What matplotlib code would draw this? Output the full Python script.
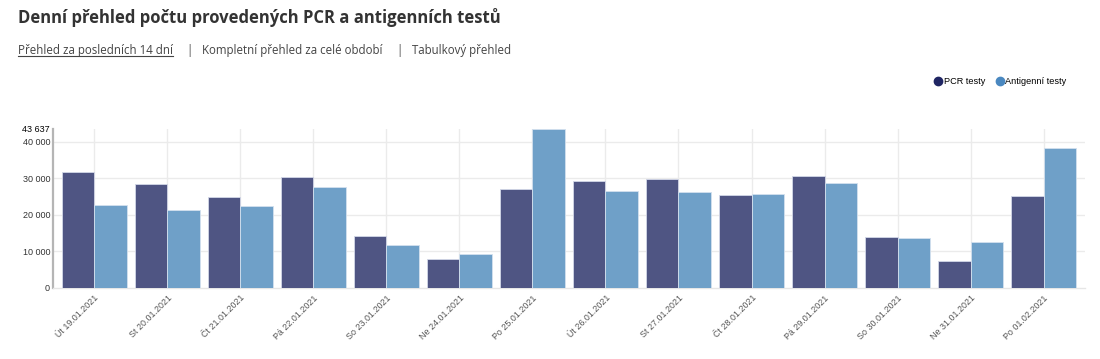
import numpy as np
import matplotlib
matplotlib.use("Agg")
import matplotlib.pyplot as plt
from matplotlib.lines import Line2D

# data
dates = ["Út 19.01.2021", "St 20.01.2021", "Čt 21.01.2021", "Pá 22.01.2021",
         "So 23.01.2021", "Ne 24.01.2021", "Po 25.01.2021", "Út 26.01.2021",
         "St 27.01.2021", "Čt 28.01.2021", "Pá 29.01.2021", "So 30.01.2021",
         "Ne 31.01.2021", "Po 01.02.2021"]
pcr = [31700, 28500, 25000, 30300, 14100, 7800, 27200,
       29300, 29900, 25400, 30700, 13900, 7300, 25300]
antigen = [22700, 21300, 22300, 27500, 11700, 9400, 43637,
           26600, 26200, 25800, 28800, 13600, 12500, 38300]
y_max = 43637
y_ticks = [0, 10000, 20000, 30000, 40000, y_max]
series_names = ["PCR testy", "Antigenní testy"]

pcr_col = "#4f5583"
ag_col = "#6fa0c8"

fig = plt.figure(figsize=(11, 3.59), dpi=100)
ax = fig.add_axes([0.048, 0.198, 0.938, 0.444])

x = np.arange(len(dates))
w = 0.445
ax.bar(x - w / 2, pcr, width=w, color=pcr_col, edgecolor="#d3d8e8", linewidth=0.6, zorder=3)
ax.bar(x + w / 2, antigen, width=w, color=ag_col, edgecolor="#d3e0ee", linewidth=0.6, zorder=3)

ax.set_xlim(-0.566, 13.56)
ax.set_ylim(0, y_max)

ax.set_yticks(y_ticks)
ax.set_yticklabels(["{:,}".format(v).replace(",", " ") for v in y_ticks],
                   fontsize=6.5, family="Liberation Sans", color="#333333")
ax.get_yticklabels()[-1].set_color("#000000")
ax.tick_params(axis="y", length=0, pad=2)

ax.set_xticks(x)
ax.set_xticklabels(dates, rotation=45, ha="right", va="top", rotation_mode="anchor",
                   fontsize=6.4, family="Liberation Sans", color="#555555")
ax.tick_params(axis="x", length=0, pad=4)

# grid: vertical at categories, horizontal at round numbers only
for v in y_ticks[1:-1]:
    ax.axhline(v, color="#ebebeb", linewidth=1, zorder=1)
for xi in x:
    ax.axvline(xi, color="#ebebeb", linewidth=1, zorder=1)

for s in ["top", "right"]:
    ax.spines[s].set_visible(False)
ax.spines["left"].set_color("#b5b5b5")
ax.spines["left"].set_linewidth(1.6)
ax.spines["bottom"].set_color("#e6e6e6")
ax.spines["bottom"].set_linewidth(1)

# legend
handles = [Line2D([], [], marker="o", linestyle="", markersize=6, color="#1f2563"),
           Line2D([], [], marker="o", linestyle="", markersize=6, color="#4a88c0")]
fig.legend(handles, series_names, loc="center right", bbox_to_anchor=(0.977, 0.772),
           ncol=2, frameon=False, prop={"family": "Liberation Sans", "size": 6.6},
           handletextpad=0.0, columnspacing=1.0, handlelength=1.2)

# header
fig.text(0.0164, 0.95, "Denní přehled počtu provedených PCR a antigenních testů",
         fontsize=11.95, fontweight="bold", family="Open Sans", color="#333333",
         va="center", ha="left")
link_y = 0.858
links = [("Přehled za posledních 14 dní", 0.0164),
         ("|", 0.169),
         ("Kompletní přehled za celé období", 0.1836),
         ("|", 0.360),
         ("Tabulkový přehled", 0.3745)]
texts = []
for label, lx in links:
    t = fig.text(lx, link_y, label, fontsize=8.3, family="Open Sans", color="#444444",
                 va="center", ha="left")
    texts.append(t)

fig.canvas.draw()
bb = texts[0].get_window_extent().transformed(fig.transFigure.inverted())
fig.add_artist(Line2D([bb.x0, bb.x1], [bb.y0 + 0.005, bb.y0 + 0.005],
                      transform=fig.transFigure, color="#444444", linewidth=0.8))

fig.savefig("out.png", dpi=100)
